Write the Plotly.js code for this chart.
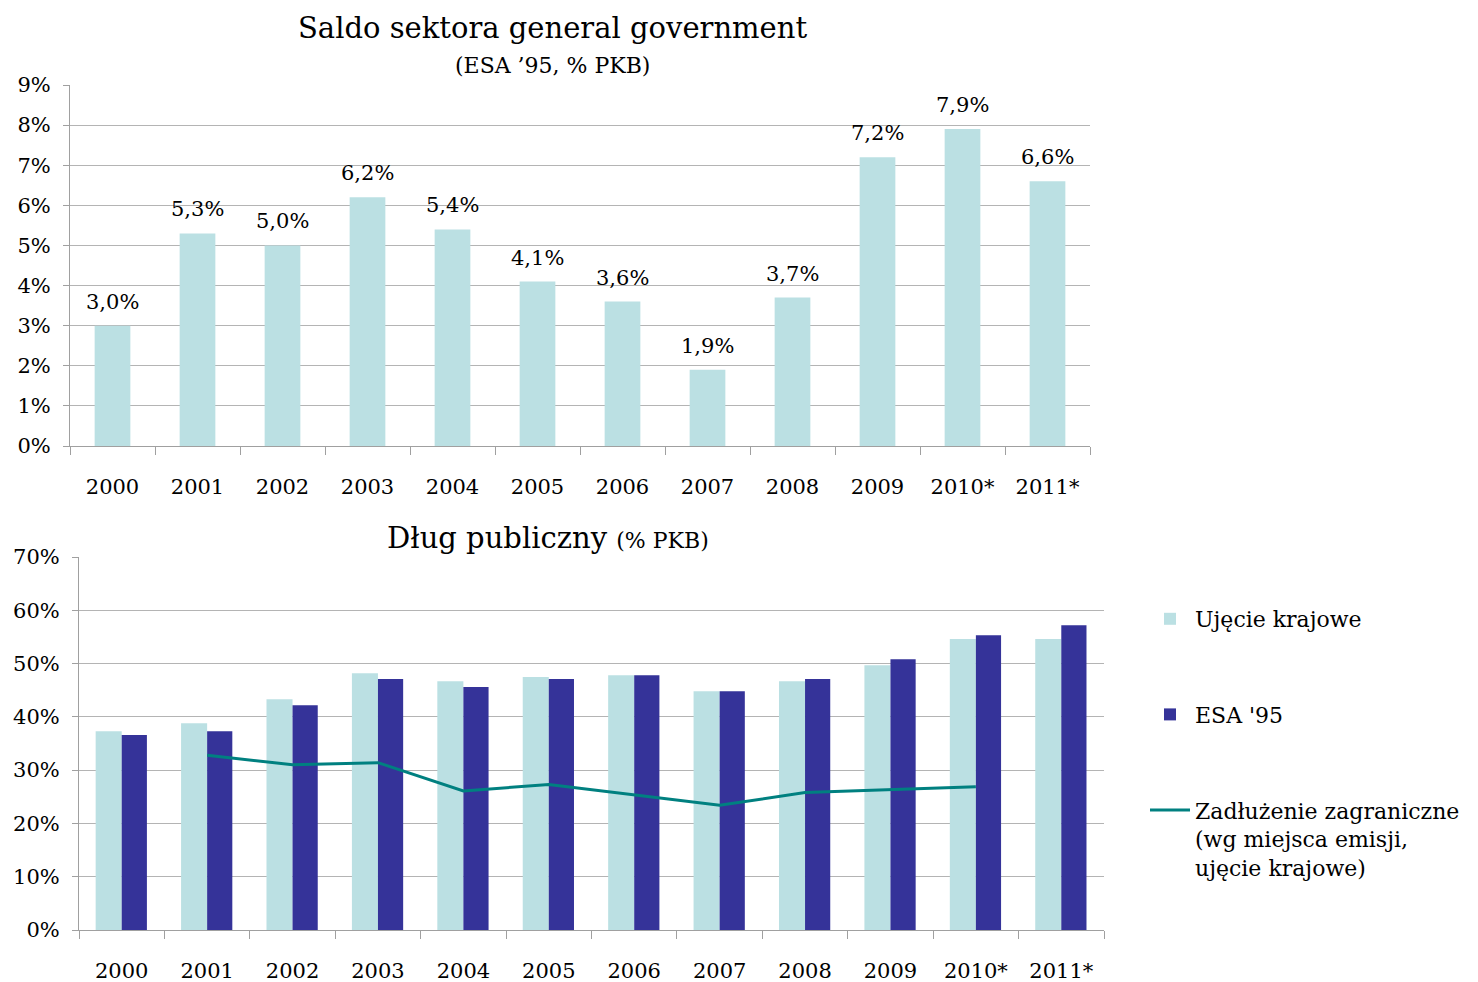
<!DOCTYPE html>
<html>
<head>
<meta charset="utf-8">
<script src="https://cdn.plot.ly/plotly-3.0.1.min.js"></script>
<style>html,body{margin:0;padding:0;background:#fff}#chart{width:1478px;height:982px}</style>
</head>
<body>
<div id="chart"></div>
<script>
const years = ["2000","2001","2002","2003","2004","2005","2006","2007","2008","2009","2010*","2011*"];
const saldo = [3.0,5.3,5.0,6.2,5.4,4.1,3.6,1.9,3.7,7.2,7.9,6.6];
const dlugKrajowe = [37.3,38.8,43.3,48.2,46.7,47.5,47.8,44.8,46.7,49.7,54.6,54.6];
const dlugESA = [36.6,37.3,42.2,47.1,45.6,47.1,47.8,44.8,47.1,50.8,55.3,57.2];
const zadluzYears = ["2001","2002","2003","2004","2005","2006","2007","2008","2009","2010*"];
const zadluz = [32.8,31.0,31.4,26.1,27.3,25.3,23.4,25.8,26.3,26.9];
const topTicks = [0,1,2,3,4,5,6,7,8,9];
const botTicks = [0,10,20,30,40,50,60,70];

const FONT = "DejaVu Serif, Liberation Serif, serif";
const fmt = v => v.toFixed(1).replace('.', ',') + '%';

const traces = [
  {type:'bar', x:years, y:saldo, xaxis:'x', yaxis:'y', marker:{color:'#BBE0E3'},
   width:0.42, showlegend:false, hoverinfo:'skip'},
  {type:'bar', x:years, y:dlugKrajowe, xaxis:'x2', yaxis:'y2', name:'Ujęcie krajowe',
   marker:{color:'#BBE0E3'}, legendgroup:'a', width:0.305, offset:-0.305},
  {type:'bar', x:years, y:dlugESA, xaxis:'x2', yaxis:'y2', name:"ESA '95",
   marker:{color:'#353399'}, legendgroup:'b', width:0.295, offset:0},
  {type:'scatter', mode:'lines', x:zadluzYears, y:zadluz, xaxis:'x2', yaxis:'y2',
   name:'Zadłużenie zagraniczne<br>(wg miejsca emisji,<br>ujęcie krajowe)',
   line:{color:'#008080', width:3}, legendgroup:'c'}
];

const gridC = '#B4B4B4', axC = '#A0A0A0';
const baseX = {type:'category', showgrid:false, showline:true, linecolor:axC, linewidth:1,
  ticks:'outside', tickson:'boundaries', ticklen:8, tickcolor:axC, automargin:false,
  tickfont:{family:FONT, size:21, color:'#000'}, ticklabelstandoff:22, fixedrange:true};
const baseY = {showgrid:true, gridcolor:gridC, gridwidth:1, showline:true, linecolor:axC,
  ticks:'outside', ticklen:6, tickcolor:axC, zeroline:false, automargin:false,
  tickfont:{family:FONT, size:21, color:'#000'}, ticklabelstandoff:8, fixedrange:true};

// category index positions on the category axis
const labelAnn = saldo.map((v,i)=>({x:i, y:v, xref:'x', yref:'y', text:fmt(v),
  showarrow:false, yanchor:'bottom', yshift:10, font:{family:FONT, size:21, color:'#000'}}));

const layout = {
  width:1478, height:982, margin:{l:0,r:0,t:0,b:0},
  paper_bgcolor:'#fff', plot_bgcolor:'#fff',
  font:{family:FONT, color:'#000'},
  barmode:'group',
  xaxis: Object.assign({}, baseX, {domain:[70/1478, 1090/1478], anchor:'y', range:[-0.5, years.length-0.5]}),
  yaxis: Object.assign({}, baseY, {domain:[1-446/982, 1-85/982], anchor:'x', range:[0,9],
    tickvals:topTicks, ticktext:topTicks.map(v=>v+'%')}),
  xaxis2: Object.assign({}, baseX, {domain:[79/1478, 1104/1478], anchor:'y2', range:[-0.5, years.length-0.5]}),
  yaxis2: Object.assign({}, baseY, {domain:[1-930/982, 1-557/982], anchor:'x2', range:[0,70],
    tickvals:botTicks, ticktext:botTicks.map(v=>v+'%')}),
  legend:{x:1145/1478, y:1-598/982, xanchor:'left', yanchor:'top', tracegroupgap:64,
    valign:'top', font:{family:FONT, size:22, color:'#000'}, bgcolor:'rgba(0,0,0,0)', itemwidth:40},
  annotations: labelAnn.concat([
    {text:'Saldo sektora general government', xref:'paper', yref:'paper', x:552/1478, y:1-28/982,
     xanchor:'center', yanchor:'middle', showarrow:false, font:{family:FONT, size:29, color:'#000'}},
    {text:'(ESA ’95, % PKB)', xref:'paper', yref:'paper', x:552/1478, y:1-65/982,
     xanchor:'center', yanchor:'middle', showarrow:false, font:{family:FONT, size:22, color:'#000'}},
    {text:'Dług publiczny <span style="font-size:22px">(% PKB)</span>', xref:'paper', yref:'paper', x:548/1478, y:1-538/982,
     xanchor:'center', yanchor:'middle', showarrow:false, font:{family:FONT, size:29, color:'#000'}}
  ])
};

Plotly.newPlot('chart', traces, layout, {displayModeBar:false, staticPlot:true});
</script>
</body>
</html>
